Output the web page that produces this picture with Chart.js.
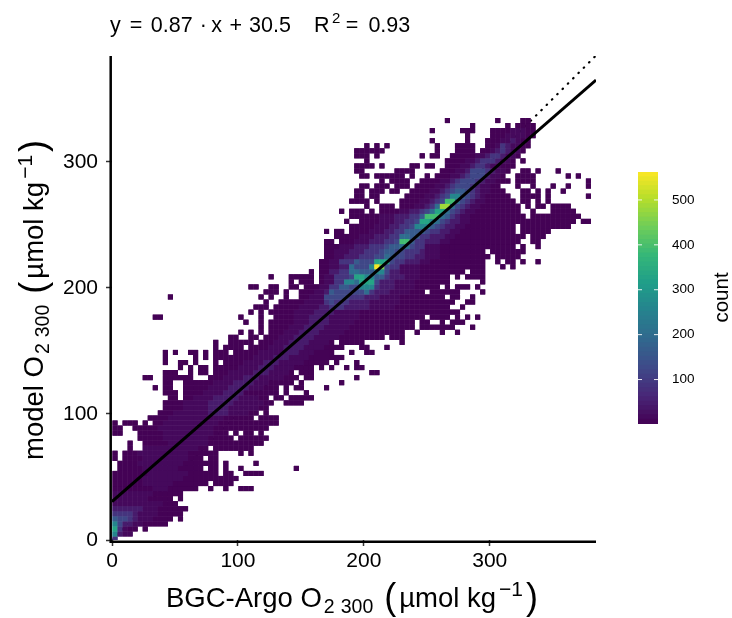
<!DOCTYPE html>
<html>
<head>
<meta charset="utf-8">
<script src="https://cdn.jsdelivr.net/npm/chart.js@4"></script>
<style>
html, body { margin: 0; padding: 0; background: #fff; }
#wrap { position: relative; width: 732px; height: 618px; }
#chart { position: absolute; left: 0; top: 0; }
#bar { position: absolute; left: 625px; top: 150px; }
</style>
</head>
<body>
<div id="wrap">
<canvas id="chart" width="732" height="618"></canvas>
<canvas id="bar" width="107" height="300"></canvas>
</div>
<script>
// axis ticks
let xTicks = [0, 100, 200, 300];
let yTicks = [0, 100, 200, 300];
let countTicks = [100, 200, 300, 400, 500];

// fit line and 1:1 line
let fitX = [0, 384.4];
let fitY = [30.5, 364.9];
let oneX = [0, 384.4];
let oneY = [0, 384.4];

// count read for each shade in the picture
let levelCounts = { a: 3, b: 14, c: 42, d: 85, e: 120, f: 160, g: 200, h: 260, i: 330, j: 390, k: 450, l: 480, n: 555 };

// bin width of the 2d histogram, O2 units
let binSize = 4;

// one string per y bin, bottom up: "firstBin-lastBin shade"
let rowRuns = [
  "0d",
  "0h 1c 2-3b",
  "0i 1d 2b 3-4a 6a",
  "0h 1e 2-3c 4-5b 6-10a",
  "0f 1-2e 3d 4c 5-7b 8-11a 13a",
  "0-3d 4c 5-8b 9-13a",
  "0-5c 6-8b 9-14a",
  "0-9b 10-12a",
  "0-6b 7-11a 13a",
  "0-7b 8-13a",
  "0-7a 8-10b 11-16a 19a 22a 25-27a",
  "0-5a 6-11b 12-18a 20-23a",
  "0-5a 6-13b 14-24a",
  "0-6a 7-14b 15-20a 22-23a 26-29a",
  "1-5a 6-12b 13-17a 19-20a 22a 25a 36a",
  "1-4a 5-13b 14-20a 22a 28a",
  "0a 2-5a 6-14b 15-17a 19-20a",
  "0a 2-4a 5-14b 15-20a 25a 27a",
  "3a 6-16b 17-18a 20-27a",
  "3a 6-10a 11-18b 19-29a",
  "5-9a 10-18b 19-23a 25-30a",
  "0-1a 5-9a 10-19b 20-22a 24a 26-27a 29a",
  "0-1a 4-8a 9-19b 20-30a",
  "0a 2-4a 6a 8-9a 10-20b 21-32a",
  "7-10a 11-21b 22-27a 29-32a",
  "9-11a 12-18b 19-22c 23-26b 27-28a 30a",
  "10-13a 14-18b 19-22c 23-28b 29-30a",
  "10-13a 14-18b 19-23c 24-29b 30-31a 34-37a",
  "11-12a 14-15a 16-19b 20-24c 25-28b 29-30a 32-33a 35-39a",
  "10-12a 14-17a 18-21b 22-25c 26-31a 32a 34a 38a",
  "8a 10-11a 14-18a 19-22b 23-26c 27-29b 30-32a 34a 36-37a 42a",
  "10-11a 14-19a 20-23b 24-27c 28-30b 31-35a 37a 45a",
  "6-7a 10-15a 19-21a 22-25b 26-28c 29-33b 34-36a 38-39a 48a",
  "10-12a 15a 17-18a 20-22a 23-27b 28-30c 31-34b 35a 37-39a 51-52a",
  "13a 15a 17-18a 20-24a 25-28b 29-31c 32-35b 36-39a 41a 43a 46a 48-49a",
  "10a 13-14a 16a 20a 22-25a 26-29b 30-32c 33-37b 38-42a 44a 48a",
  "10a 16a 18a 20-27a 28-31b 32-34c 35-38b 39-45a",
  "10a 12a 15-16a 18a 20-22a 24-28a 29-33b 34-36c 37-39b 40-43a 47a 50-51a",
  "20a 22-25a 27-30a 31-33b 34-37c 38-41b 42-45a 49-50a 54a",
  "20a 23-27a 29-31a 32-34b 35-38c 39-42b 43a 45-49a 57a",
  "23-24a 27-28a 30-32a 33-35b 36-39c 40-44b 45-53a 55-57a",
  "25a 27a 29a 31-33a 34-36b 37-40c 41-45b 46-57a 60a 65a 68a",
  "29a 31-34a 35-37b 38-41c 42-46b 47-59a 61-67a 71a",
  "26a 29a 31-35a 36-38b 39-42c 43-47b 48-59a 61-62a 65a 67-69a",
  "8-9a 25a 29a 32-35a 36-38b 39-42c 43-48b 49-61a 63-66a 68a 70a 72a",
  "27a 29a 31-35a 36-39b 40-43c 44-48b 49-68a",
  "28-30a 32-36a 37-40b 41-42c 43-45d 46-50c 51-55b 56-66a 69a",
  "30a 33-37a 38-41b 42d 43e 44-46d 47-50c 51-56b 57-67a 70-71a",
  "11a 29a 31a 34a 37-38a 39-41b 42-46e 47-49d 50-52c 53-56b 57-65a 67-68a 71a",
  "30-32a 34a 37-39a 40-41b 42c 43f 44-49e 50g 51d 52-54c 55-58b 59-61a 63-68a 73a",
  "27-28a 31-32a 35-36a 38-40a 41-42b 43-44d 45-46f 47-48e 49-51h 52d 53-55c 56-59b 60-64a 66a 68-70a 72a",
  "35a 37-39a 41a 42-43b 44-45d 46-47h 48g 49-51i 52e 53-55c 56-59b 60-66a 73a",
  "31a 35-39a 41a 42-43b 44-46d 47e 48-49i 50-51h 52-53f 54d 55-57c 58-60b 61-66a 68a 70-73a",
  "39a 41-42a 43-44c 45-46d 47-48g 49-51f 52-53h 54e 55-56c 57-60b 61-69a 71-73a",
  "41-42a 43-44b 45-46c 47g 48-50e 51h 52n 53k 54e 55-56d 57-60b 61-73a 77a 79a",
  "41-42a 43-44b 45-47d 48f 49-51e 52-54i 55e 56-57d 58-60c 61-62b 63-73a 76a 78-79a 81a 84a",
  "42-43a 44-45b 46-48c 49-51d 52-53e 54g 55f 56-57e 58-59d 60-61c 62-64b 65-74a 76-80a",
  "42-43a 44-46b 47-49c 50-52d 53e 54-55f 56-57e 58-60d 61c 62-64b 65-73a 75-81a",
  "42-44a 45-47b 48-50c 51-53d 54e 55-56f 57-58g 59e 60-61d 62-64b 65-79a 81a 84a",
  "42-43a 45-47a 48-50b 51-53c 54-55d 56e 57-58j 59f 60-61d 62-64c 65-66b 67-80a 83-84a",
  "44-48a 49-51b 52-54c 55-56d 57-58g 59-60f 61-62d 63-65c 66-67b 68-81a 83-85a",
  "42a 44-45a 47-50a 51-53b 54-55c 56-57d 58-61f 62e 63-64d 65-66c 67-68b 69-79a 81-86a",
  "47-51a 52-54b 55-56c 57-58d 59e 60-62h 63f 64e 65d 66-67c 68-69b 70-79a 81-90a",
  "46a 49-52a 53-55b 56-57c 58-59d 60e 61-62i 63h 64g 65e 66d 67-68c 69-70b 71-91a 93-94a",
  "47-52a 53-55b 56-58c 59-60d 61f 62-64j 65g 66f 67d 68c 69-70b 71-81a 83-92a",
  "45a 47-49a 51a 53-56a 57-58b 59-60c 61d 62e 63g 64-65i 66g 67e 68d 69c 70-71b 72-80a 83a 87-91a",
  "50a 53-55a 57-59a 60-61b 62c 63d 64g 65-66l 67g 68e 69d 70c 71-72b 73-80a 82a 84-85a 87-90a",
  "47-50a 52a 57-60a 61-62b 63c 64d 65e 66-67j 68g 69e 70d 71c 72-73b 74-79a 81-82a 84a 86a",
  "48-49a 51-52a 58-61a 62-63b 64c 65d 66e 67-68h 69f 70e 71d 72c 73b 74-78a 81-84a 86a 94a",
  "48-49a 51-53a 55-56a 59-62a 63-64b 65c 66d 67e 68-69f 70e 71d 72c 73-74b 75-77a 81-82a 84a 86a 89a",
  "49-50a 52-54a 56-58a 60-63a 64-65b 66c 67d 68-70e 71d 72c 73-74b 75-76a 80a 83a 87a 90a 94a",
  "53a 55-58a 61-64a 65-66b 67c 68d 69-71e 72d 73c 74-75b 76-78a 80-83a 94a",
  "49-50a 52-57a 59a 62a 64-66a 67-68b 69c 70d 71-73e 74c 75-76b 77a 80-83a 90a 92a",
  "48-49a 56-59a 65-67a 68-69b 70c 71-73e 74d 75c 76-77b 78a 81-82a 84a 88a",
  "48-51a 53a 59-60a 62-63a 66-68a 69-70b 71c 72-73d 74c 75-76b 77-79a",
  "50a 66-69a 70-71b 72c 73-75d 76c 77-78b 79a 81a",
  "48-50a 52a 61a 63-64a 67-71a 72-73b 74c 75-76d 77c 78-79b 80a",
  "48-53a 64a 68-71a 73-74a 75b 76c 77d 78c 79-80b 81a",
  "50a 52a 54a 64a 68-71a 74-75a 76b 77d 78c 79-80b 81-82a",
  "63a 70a 74-76a 77-78b 79c 80b 81-82a",
  "70a 75-77a 78-81b 82-83a",
  "63a 69-71a 75-78a 79-81b 82-83a",
  "71a 78a 80-83a",
  "66a 76a 81-82a"
];

// viridis stops
let viridis = ['#440154', '#482878', '#3E4A89', '#31688E', '#26828E', '#1F9E89', '#35B779', '#6DCD59', '#B4DE2C', '#FDE725'];
let maxCount = 562;
let fontName = '"Liberation Sans", Arial, sans-serif';

function countColor(v) {
    let t = Math.min(1, Math.max(0, (v - 1) / (maxCount - 1))) * (viridis.length - 1);
    let k = Math.min(viridis.length - 2, Math.floor(t));
    let a = parseInt(viridis[k].slice(1), 16), b = parseInt(viridis[k + 1].slice(1), 16);
    let f = t - k;
    let mix = (s) => Math.round(((a >> s) & 255) * (1 - f) + ((b >> s) & 255) * f);
    return `rgb(${mix(16)},${mix(8)},${mix(0)})`;
}

// turn the row strings into points
let cells = [];
rowRuns.forEach((row, j) => {
    row.split(' ').forEach((run) => {
        let m = run.match(/^(\d+)(?:-(\d+))?([a-n])$/);
        let from = +m[1], to = m[2] ? +m[2] : from;
        for (let i = from; i <= to; i++) {
            cells.push({ x: binSize * (i + 0.5) + 0.4, y: binSize * (j + 0.5) - 1.2, count: levelCounts[m[3]] });
        }
    });
});
let cellColors = cells.map((c) => countColor(c.count));

// draw a run of text pieces, each with its own size, baseline shift and extra gap
function richText(ctx, parts, x, y) {
    let at = x;
    ctx.textAlign = 'left';
    ctx.textBaseline = 'alphabetic';
    ctx.fillStyle = '#000';
    parts.forEach((p) => {
        at += p.gap || 0;
        ctx.font = `${p.size}px ${fontName}`;
        ctx.fillText(p.text, at, y + (p.dy || 0));
        at += ctx.measureText(p.text).width;
    });
}

function axisParts(name) {
    return [
        { text: name + ' O', size: 27.5 },
        { text: '2', size: 19.5, dy: 6, gap: 2 },
        { text: '300', size: 19.5, dy: 6, gap: 6 },
        { text: '(', size: 36, dy: 2, gap: 11 },
        { text: 'µmol kg', size: 27.5, gap: 3 },
        { text: '−1', size: 21, dy: -11, gap: 3 },
        { text: ')', size: 36, dy: 2, gap: 3 }
    ];
}

let textPlugin = {
    id: 'texts',
    afterDraw(chart) {
        let ctx = chart.ctx, area = chart.chartArea;
        ctx.save();
        // axis lines
        ctx.strokeStyle = '#000';
        ctx.lineWidth = 2.5;
        ctx.beginPath();
        ctx.moveTo(area.left - 1.3, area.top);
        ctx.lineTo(area.left - 1.3, area.bottom + 1.8);
        ctx.lineTo(area.right, area.bottom + 1.8);
        ctx.stroke();

        richText(ctx, [
            { text: 'y', size: 21.5 },
            { text: '=', size: 21.5, gap: 9 },
            { text: '0.87', size: 21.5, gap: 8.5 },
            { text: '·', size: 21.5, gap: 7 },
            { text: 'x', size: 21.5, gap: 4.5 },
            { text: '+', size: 21.5, gap: 7.5 },
            { text: '30.5', size: 21.5, gap: 7 },
            { text: 'R', size: 21.5, gap: 23 },
            { text: '2', size: 15, dy: -9, gap: 2.5 },
            { text: '=', size: 21.5, gap: 5.5 },
            { text: '0.93', size: 21.5, gap: 10 }
        ], 110, 32);

        richText(ctx, axisParts('BGC-Argo'), 166, 607);

        ctx.translate(43, 460);
        ctx.rotate(-Math.PI / 2);
        richText(ctx, axisParts('model'), 0, 0);
        ctx.restore();
    }
};

let cellStyle = {
    data: cells,
    pointStyle: 'rect',
    pointRadius: 3.6,
    pointBorderWidth: 0,
    pointBackgroundColor: cellColors
};

let graph = new Chart(document.getElementById('chart'), {
    type: 'scatter',
    data: {
        datasets: [
            {
                label: 'one to one',
                data: oneX.map((v, k) => ({ x: v, y: oneY[k] })),
                showLine: true,
                borderColor: '#000',
                borderWidth: 2.2,
                borderDash: [0.5, 7],
                borderCapStyle: 'round',
                pointRadius: 0,
                order: 4
            },
            // same cells twice so the joins between them do not show white
            { ...cellStyle, label: 'count under', order: 3 },
            { ...cellStyle, label: 'count', order: 2 },
            {
                label: 'fit',
                data: fitX.map((v, k) => ({ x: v, y: fitY[k] })),
                showLine: true,
                borderColor: '#000',
                borderWidth: 3,
                pointRadius: 0,
                order: 1
            }
        ]
    },
    options: {
        responsive: false,
        animation: false,
        layout: { padding: { left: 0, right: 136, top: 56, bottom: 0 } },
        plugins: { legend: { display: false }, tooltip: { enabled: false } },
        scales: {
            x: {
                type: 'linear',
                min: 0,
                max: 384.4,
                afterFit: (s) => { s.height = 78; },
                afterBuildTicks: (s) => { s.ticks = xTicks.map((v) => ({ value: v })); },
                border: { display: false },
                grid: { drawOnChartArea: false, tickLength: 6, tickWidth: 1.5, tickColor: '#333' },
                ticks: { color: '#000', maxRotation: 0, padding: 3, font: { family: fontName, size: 21 } }
            },
            y: {
                type: 'linear',
                min: 0,
                max: 384,
                afterFit: (s) => { s.width = 112; },
                afterBuildTicks: (s) => { s.ticks = yTicks.map((v) => ({ value: v })); },
                border: { display: false },
                grid: { drawOnChartArea: false, tickLength: 6, tickWidth: 1.5, tickColor: '#333' },
                ticks: { color: '#000', padding: 8, font: { family: fontName, size: 21 } }
            }
        }
    },
    plugins: [textPlugin]
});

// colour bar: thin floating bars up the count scale
let barSteps = [];
for (let v = 1; v < maxCount; v += 10) barSteps.push(v);

let barPlugin = {
    id: 'barTicks',
    afterDraw(chart) {
        let ctx = chart.ctx, area = chart.chartArea, scale = chart.scales.y;
        ctx.save();
        ctx.strokeStyle = 'rgba(255,255,255,0.9)';
        ctx.lineWidth = 1;
        countTicks.forEach((v) => {
            let py = scale.getPixelForValue(v);
            ctx.beginPath();
            ctx.moveTo(area.left, py);
            ctx.lineTo(area.left + 4, py);
            ctx.moveTo(area.right - 4, py);
            ctx.lineTo(area.right, py);
            ctx.stroke();
        });
        ctx.translate(103, 147.5);
        ctx.rotate(-Math.PI / 2);
        ctx.fillStyle = '#000';
        ctx.font = `20.5px ${fontName}`;
        ctx.textAlign = 'center';
        ctx.textBaseline = 'alphabetic';
        ctx.fillText('count', 0, 0);
        ctx.restore();
    }
};

let bar = new Chart(document.getElementById('bar'), {
    type: 'bar',
    data: {
        labels: ['count'],
        datasets: barSteps.map((v) => ({
            data: [[v, Math.min(maxCount, v + 11)]],
            backgroundColor: countColor(v + 5),
            grouped: false,
            barPercentage: 1,
            categoryPercentage: 1
        }))
    },
    options: {
        responsive: false,
        animation: false,
        layout: { padding: { left: 13, right: 0, top: 22, bottom: 26 } },
        plugins: { legend: { display: false }, tooltip: { enabled: false } },
        scales: {
            x: { display: false },
            y: {
                position: 'right',
                min: 1,
                max: maxCount,
                afterFit: (s) => { s.width = 74; },
                afterBuildTicks: (s) => { s.ticks = countTicks.map((v) => ({ value: v })); },
                border: { display: false },
                grid: { display: false, drawTicks: false },
                ticks: { color: '#000', padding: 14, font: { family: fontName, size: 13.5 } }
            }
        }
    },
    plugins: [barPlugin]
});
</script>
</body>
</html>
